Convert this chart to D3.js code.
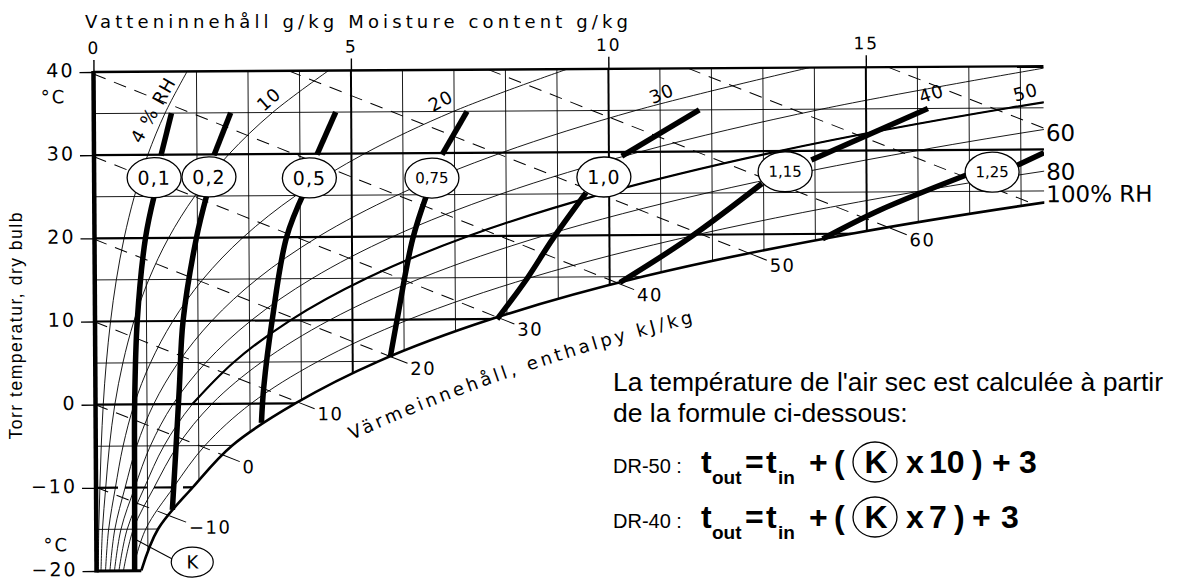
<!DOCTYPE html>
<html lang="sv">
<head>
<meta charset="utf-8">
<title>Mollier-diagram, torktemperatur</title>
<script src="https://cdnjs.cloudflare.com/ajax/libs/d3/7.8.5/d3.min.js"></script>
<style>
  body { margin: 0; background: #fff; }
  svg { display: block; }
  text { fill: #000; }
  .chart text, .dv { font-family: "DejaVu Sans", Verdana, sans-serif; }
  .note { font-family: "Liberation Sans", Arial, Helvetica, sans-serif; }
</style>
</head>
<body>
<svg id="chart" width="1181" height="579"></svg>
<script>
// moisture content (g/kg) of each RH curve at these temperatures
var temps = [-20, -15, -10, -5, 0, 5, 10, 15, 20, 25, 30, 35, 40];
var saturation = [0.87, 1.2, 1.88, 2.65, 3.88, 5.5, 7.7, 10.65, 14.7, 20.09, 27.21, 36.58, 48.89];
var rh4  = [0.035, 0.048, 0.075, 0.106, 0.150, 0.214, 0.302, 0.419, 0.575, 0.779, 1.045, 1.385, 1.819];
var rh10 = [0.087, 0.12, 0.188, 0.265, 0.375, 0.536, 0.755, 1.049, 1.439, 1.952, 2.618, 3.474, 4.566];
var rh20 = [0.174, 0.24, 0.376, 0.53, 0.751, 1.073, 1.512, 2.101, 2.885, 3.916, 5.258, 6.988, 9.2];
var rh30 = [0.26, 0.36, 0.564, 0.795, 1.128, 1.611, 2.27, 3.157, 4.338, 5.893, 7.92, 10.541, 13.903];
var rh40 = [0.348, 0.48, 0.752, 1.06, 1.504, 2.15, 3.031, 4.217, 5.797, 7.882, 10.605, 14.135, 18.677];
var rh50 = [0.435, 0.6, 0.94, 1.325, 1.882, 2.69, 3.793, 5.28, 7.264, 9.883, 13.313, 17.77, 23.522];
var rh60 = [0.522, 0.72, 1.128, 1.59, 2.259, 3.231, 4.557, 6.347, 8.737, 11.898, 16.045, 21.446, 28.442];
var rh80 = [0.696, 0.96, 1.504, 2.12, 3.016, 4.315, 6.091, 8.491, 11.704, 15.966, 21.579, 28.927, 38.51];
var rhCurves = [rh4, rh10, rh20, rh30, rh40, rh50, rh60, rh80];

var moistureTicks = [0, 5, 10, 15];
var tempTicks = [40, 30, 20, 10, 0, -10, -20];
var gridMoisture = [1, 2, 3, 4, 5, 6, 7, 8, 9, 10, 11, 12, 13, 14, 15, 16, 17, 18];
var gridTemp = [-15, -10, -5, 0, 5, 10, 15, 20, 25, 30, 35];

// enthalpy lines (kJ/kg), [g/kg, °C] where each one starts and where it meets saturation
var enthalpyValues = [-10, 0, 10, 20, 30, 40, 50, 60, 70, 80];
var enthalpyStart = [[0, -9.94], [0, 0], [0, 9.94], [0, 19.88], [0, 29.82], [0, 39.76], [3.79, 40], [7.67, 40], [11.55, 40], [15.43, 40]];
var enthalpyEnd = [[1.42, -13.4], [2.47, -6.15], [3.93, 0.16], [5.74, 5.55], [7.82, 10.2], [10.15, 14.25], [12.73, 17.68], [15.45, 20.65], [18.23, 23.47], [18.45, 32.55]];

// K factor process lines, broken by their label
var kValues = ["0,1", "0,2", "0,5", "0,75", "1,0", "1,15", "1,25"];
var kLower = [
  [[0.74, -20], [0.75, -10], [0.76, 0], [0.82, 10], [0.99, 20], [1.17, 25.2]],
  [[1.48, -12.7], [1.56, -5], [1.63, 2], [1.71, 10], [1.98, 20], [2.19, 25.2]],
  [[3.22, -2.3], [3.27, 2], [3.44, 10], [3.73, 20], [4.08, 25.4]],
  [[5.73, 5.5], [5.87, 10.1], [6.18, 19.7], [6.47, 25.2]],
  [[7.81, 10], [8.39, 14.8], [8.9, 19.6], [9.55, 25.1]],
  [[10.2, 14.3], [11.55, 19.6], [12.97, 26.1]],
  [[14.14, 19.4], [15.25, 22.8], [16.94, 26.97]]
];
var kUpper = [
  [[1.30, 29.9], [1.51, 35]],
  [[2.33, 29.9], [2.66, 35]],
  [[4.33, 29.9], [4.7, 35]],
  [[6.76, 29.8], [7.25, 35]],
  [[10.25, 29.5], [11.76, 35]],
  [[13.93, 28.9], [16.2, 35]],
  [[17.93, 28.1], [18.45, 29.6]]
];
var kLabelAt = [[1.165, 27.25], [2.23, 27.3], [4.18, 27.1], [6.56, 27.0], [9.9, 27.0], [13.42, 27.5], [17.44, 27.3]];

var svg = d3.select("#chart");
var x = d3.scaleLinear().domain([0, 18.45]).range([95, 1045]);
var y = d3.scaleLinear().domain([-20, 40]).range([571, 72]);

var line = d3.line()
    .x(function(d) { return x(d[0]); })
    .y(function(d) { return y(d[1]); })
    .curve(d3.curveCatmullRom.alpha(0.5));

function pts(vals) { return temps.map(function(t, i) { return [vals[i], t]; }); }

var defs = svg.append("defs");
defs.append("clipPath").attr("id", "frame").append("rect")
    .attr("x", x(0)).attr("y", y(40)).attr("width", x(18.45) - x(0)).attr("height", y(-20) - y(40));
defs.append("clipPath").attr("id", "wet").append("path")
    .attr("d", line(pts(saturation)) + "L" + x(0) + "," + y(40) + "L" + x(0) + "," + y(-20) + "Z");

// the printed chart is a little tilted
var plot = svg.append("g").attr("class", "chart").attr("transform", "rotate(-0.35,95,320)");
var framed = plot.append("g").attr("clip-path", "url(#frame)");
var inner = framed.append("g").attr("clip-path", "url(#wet)");

// grid
inner.selectAll(".gx").data(gridMoisture).enter().append("line")
    .attr("x1", function(d) { return x(d); }).attr("x2", function(d) { return x(d); })
    .attr("y1", function(d) { return y(d === 1 ? 15 : 40); }).attr("y2", y(-20))
    .attr("stroke", "#000").attr("stroke-width", function(d) { return d % 5 === 0 ? 2 : 0.9; });
inner.selectAll(".gy").data(gridTemp).enter().append("line")
    .attr("x1", x(0)).attr("x2", x(18.45))
    .attr("y1", function(d) { return y(d); }).attr("y2", function(d) { return y(d); })
    .attr("stroke", "#000")
    .attr("stroke-width", function(d) { return d % 10 === 0 ? 2.2 : 0.9; })
    .attr("stroke-dasharray", function(d) { return d === -10 ? "22 7" : null; });

// relative humidity
rhCurves.forEach(function(vals) {
  inner.append("path").attr("d", line(pts(vals)))
      .attr("fill", "none").attr("stroke", "#000").attr("stroke-width", 0.9);
});
inner.append("path")
    .attr("d", line(pts(rh50).filter(function(d) { return d[1] >= 0; })))
    .attr("fill", "none").attr("stroke", "#000").attr("stroke-width", 2.2);

// enthalpy
enthalpyValues.forEach(function(h, i) {
  inner.append("line")
      .attr("x1", x(enthalpyStart[i][0])).attr("y1", y(enthalpyStart[i][1]))
      .attr("x2", x(enthalpyEnd[i][0])).attr("y2", y(enthalpyEnd[i][1]))
      .attr("stroke", "#000").attr("stroke-width", 1).attr("stroke-dasharray", "13 9");
  if (h > 60) return;
  var x0 = x(enthalpyStart[i][0]), y0 = y(enthalpyStart[i][1]);
  var x1 = x(enthalpyEnd[i][0]), y1 = y(enthalpyEnd[i][1]);
  var len = Math.hypot(x1 - x0, y1 - y0), ux = (x1 - x0) / len, uy = (y1 - y0) / len;
  plot.append("line").attr("x1", x1).attr("y1", y1)
      .attr("x2", x1 + ux * 18).attr("y2", y1 + uy * 18)
      .attr("stroke", "#000").attr("stroke-width", 1);
  plot.append("text").attr("x", x1 + ux * 21).attr("y", y1 + uy * 21 + 4)
      .attr("dominant-baseline", "central").attr("font-size", 18).attr("letter-spacing", 1.5)
      .text(h < 0 ? "\u2212" + (-h) : h);
});

// saturation line and frame
framed.append("path").attr("d", line(pts(saturation)))
    .attr("fill", "none").attr("stroke", "#000").attr("stroke-width", 2.6);
plot.append("line").attr("x1", x(0)).attr("x2", x(18.45)).attr("y1", y(40)).attr("y2", y(40))
    .attr("stroke", "#000").attr("stroke-width", 2.4);
plot.append("line").attr("x1", x(0)).attr("x2", x(saturation[0])).attr("y1", y(-20)).attr("y2", y(-20))
    .attr("stroke", "#000").attr("stroke-width", 3);
plot.append("line").attr("x1", x(0)).attr("x2", x(0)).attr("y1", y(40) - 1).attr("y2", y(-20) + 1.5)
    .attr("stroke", "#000").attr("stroke-width", 4.5);

// K lines and labels
kValues.forEach(function(k, i) {
  [kLower[i], kUpper[i]].forEach(function(seg) {
    framed.append("path").attr("d", line(seg))
        .attr("fill", "none").attr("stroke", "#000").attr("stroke-width", 5.5);
  });
  var cx = x(kLabelAt[i][0]), cy = y(kLabelAt[i][1]);
  plot.append("ellipse").attr("cx", cx).attr("cy", cy).attr("rx", 27).attr("ry", 20)
      .attr("fill", "#fff").attr("stroke", "#000").attr("stroke-width", 1.3);
  plot.append("text").attr("x", cx).attr("y", cy).attr("text-anchor", "middle")
      .attr("dominant-baseline", "central")
      .attr("font-size", k.length > 3 ? 15 : 19).attr("letter-spacing", k.length > 3 ? 0 : 1)
      .text(k);
});

// K callout
plot.append("line").attr("x1", x(0.78)).attr("y1", y(-16.3)).attr("x2", x(1.5)).attr("y2", y(-18.7))
    .attr("stroke", "#000").attr("stroke-width", 1);
plot.append("ellipse").attr("cx", x(1.86)).attr("cy", y(-19)).attr("rx", 21).attr("ry", 15)
    .attr("fill", "#fff").attr("stroke", "#000").attr("stroke-width", 1.2);
plot.append("text").attr("x", x(1.86)).attr("y", y(-19)).attr("text-anchor", "middle")
    .attr("dominant-baseline", "central").attr("font-size", 18).text("K");

// axes
var topAxis = d3.axisTop(x).tickValues(moistureTicks).tickSize(12).tickPadding(6).tickFormat(d3.format("d"));
plot.append("g").attr("transform", "translate(0," + y(40) + ")").call(topAxis)
    .call(function(g) {
      g.attr("font-family", null).attr("font-size", null);
      g.select(".domain").remove();
      g.selectAll("line").attr("stroke-width", 1.4);
      g.selectAll("text").attr("font-size", 17).attr("letter-spacing", 2);
    });
var leftAxis = d3.axisLeft(y).tickValues(tempTicks).tickSize(14).tickPadding(5)
    .tickFormat(function(d) { return d < 0 ? "\u2212" + (-d) : d; });
plot.append("g").attr("transform", "translate(" + x(0) + ",0)").call(leftAxis)
    .call(function(g) {
      g.attr("font-family", null).attr("font-size", null);
      g.select(".domain").remove();
      g.selectAll("line").attr("stroke-width", 1.4);
      g.selectAll("text").attr("font-size", 19).attr("letter-spacing", 2).attr("dy", "0.24em");
    });
plot.append("text").attr("x", 42).attr("y", 103).attr("font-size", 18).attr("letter-spacing", 2).text("\u00b0C");
plot.append("text").attr("x", 42).attr("y", 551).attr("font-size", 18).attr("letter-spacing", 2).text("\u00b0C");

// RH labels
var rhLabels = [
  {t: "4 % RH", x: 1.15, v: 35.4, a: -60},
  {t: "10", x: 3.4, v: 36.6, a: -41},
  {t: "20", x: 6.74, v: 36.3, a: -28},
  {t: "30", x: 11.03, v: 37.0, a: -22},
  {t: "40", x: 16.27, v: 36.8, a: -18},
  {t: "50", x: 18.1, v: 36.9, a: -15}
];
rhLabels.forEach(function(d) {
  plot.append("text")
      .attr("transform", "translate(" + x(d.x) + "," + y(d.v) + ") rotate(" + d.a + ")")
      .attr("text-anchor", "middle").attr("dominant-baseline", "central")
      .attr("font-size", 18).attr("letter-spacing", 1).text(d.t);
});
[{t: "60", v: 31.97}, {t: "80", v: 27.3}, {t: "100% RH", v: 24.6}].forEach(function(d) {
  plot.append("text").attr("x", x(18.45) + 2).attr("y", y(d.v))
      .attr("dominant-baseline", "central").attr("font-size", 23).text(d.t);
});

// titles
svg.append("text").attr("class", "dv").attr("x", 85).attr("y", 28).attr("font-size", 18)
    .attr("textLength", 543).attr("lengthAdjust", "spacing")
    .text("Vatteninnehåll g/kg  Moisture content g/kg");
svg.append("text").attr("class", "note").attr("transform", "translate(22,326) rotate(-90)")
    .attr("text-anchor", "middle").attr("font-size", 17.5)
    .attr("textLength", 227).attr("lengthAdjust", "spacing")
    .text("Torr temperatur, dry bulb");
defs.append("path").attr("id", "hpath").attr("d", "M352,440 Q515,366 712,318");
svg.append("text").attr("class", "dv").attr("font-size", 18).attr("letter-spacing", 3.3)
    .append("textPath").attr("href", "#hpath").text("Värmeinnehåll, enthalpy kJ/kg");

// note and formulas
svg.append("text").attr("class", "note").attr("x", 613).attr("y", 391).attr("font-size", 26.5)
    .text("La température de l'air sec est calculée à partir");
svg.append("text").attr("class", "note").attr("x", 613).attr("y", 422).attr("font-size", 26.5)
    .text("de la formule ci-dessous:");

var formulas = [
  {label: "DR-50 :", base: 473, parts: [["x", 906], ["10", 929], [")", 972], ["+", 992], ["3", 1019]]},
  {label: "DR-40 :", base: 528, parts: [["x", 906], ["7", 929], [")", 954], ["+", 972], ["3", 1001]]}
];
formulas.forEach(function(f) {
  var g = svg.append("g").attr("class", "note");
  g.append("text").attr("x", 613).attr("y", f.base).attr("font-size", 20).text(f.label);
  var head = [["t", 701, 0], ["out", 712, 11], ["=", 745, 0], ["t", 766, 0], ["in", 778, 11], ["+", 809, 0], ["(", 834, 0]];
  head.concat(f.parts.map(function(p) { return [p[0], p[1], 0]; })).forEach(function(p) {
    g.append("text").attr("x", p[1]).attr("y", f.base + p[2])
        .attr("font-size", p[2] ? 19 : 32).attr("font-weight", "bold").text(p[0]);
  });
  g.append("ellipse").attr("cx", 875).attr("cy", f.base - 11).attr("rx", 22).attr("ry", 20)
      .attr("fill", "none").attr("stroke", "#000").attr("stroke-width", 1.3);
  g.append("text").attr("x", 876).attr("y", f.base).attr("text-anchor", "middle")
      .attr("font-size", 32).attr("font-weight", "bold").text("K");
});
</script>
</body>
</html>
